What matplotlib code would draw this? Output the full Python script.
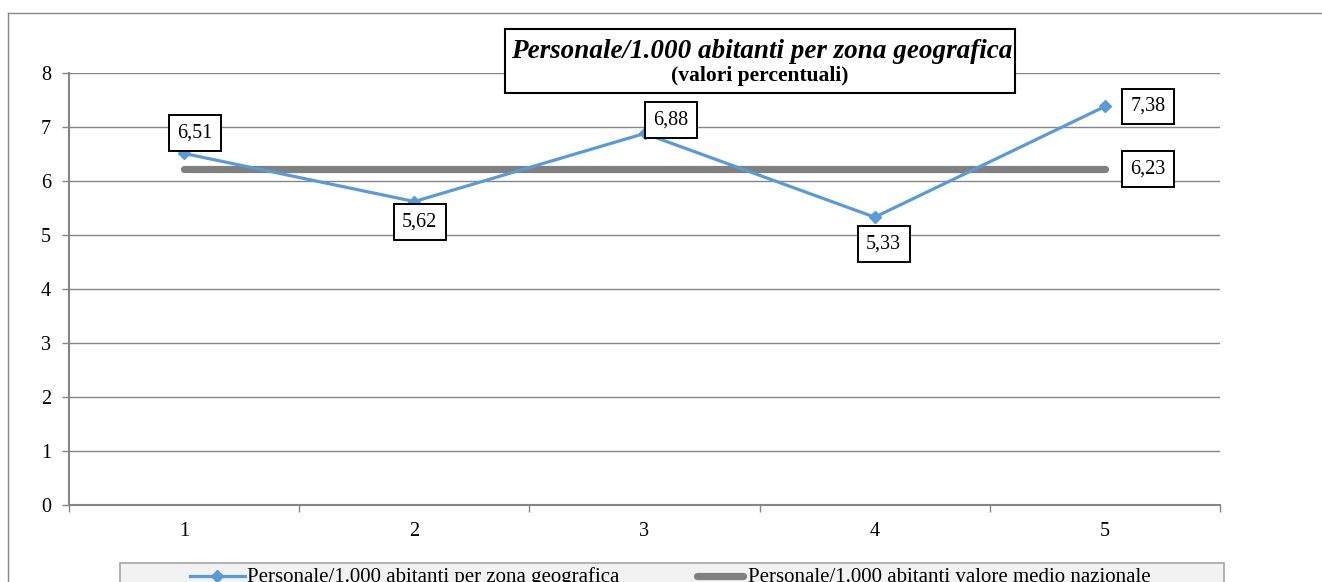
import matplotlib
matplotlib.use("Agg")
import matplotlib.pyplot as plt
from matplotlib.lines import Line2D
from matplotlib.patches import Rectangle

plt.rcParams["font.family"] = ["Liberation Serif", "DejaVu Serif"]

# data
zones = [1, 2, 3, 4, 5]
personale = [6.51, 5.62, 6.88, 5.33, 7.38]
media_nazionale = [6.23, 6.23, 6.23, 6.23, 6.23]
label_zona = "Personale/1.000 abitanti per zona geografica"
label_media = "Personale/1.000 abitanti valore medio nazionale"

W, H = 1322, 582
fig = plt.figure(figsize=(W / 100, H / 100), dpi=100)


def fx(px):
    return px / W


def fy(py):
    return 1 - py / H


GRID = "#868686"
BLUE = "#5B9BD5"
GREY = "#808080"

# outer chart frame (cut by the image edge)
fig.add_artist(Line2D([fx(8), fx(8)], [fy(13), fy(H + 5)], color=GRID, lw=1))
fig.add_artist(Line2D([fx(8), fx(W + 5)], [fy(13), fy(13)], color=GRID, lw=1))

ax = fig.add_axes([fx(69), fy(505), fx(1220) - fx(69), fy(73) - fy(505)])
ax.set_xlim(0.5, 5.5)
ax.set_ylim(0, 8)

ax.plot(zones, media_nazionale, color=GREY, lw=5.2, solid_capstyle="round", zorder=3)
ax.plot(zones, personale, color=BLUE, lw=2.3, marker="D", markersize=6.5,
        markeredgecolor=BLUE, zorder=4)

# data labels
box = dict(boxstyle="square,pad=0.42", fc="white", ec="black", lw=1.4)
offsets = [(8, 14.5), (4, -15), (19, 10), (6.5, -19), (31, 0)]
for x, v, off in zip(zones, personale, offsets):
    ax.annotate(f"{v:.2f}".replace(".", ","), (x, v), xytext=off,
                textcoords="offset points", ha="center", va="center",
                fontsize=14.5, bbox=box, zorder=5)
ax.annotate(f"{media_nazionale[-1]:.2f}".replace(".", ","),
            (zones[-1], media_nazionale[-1]), xytext=(31, 0),
            textcoords="offset points", ha="center", va="center",
            fontsize=14.5, bbox=box, zorder=5)

# axes styling
ax.set_yticks(range(0, 9))
ax.yaxis.grid(True, color=GRID, lw=1)
ax.set_axisbelow(True)
ax.set_xticks([z - 0.5 for z in zones] + [zones[-1] + 0.5])
ax.set_xticklabels([])
ax.set_xticks(zones, minor=True)
ax.set_xticklabels([str(z) for z in zones], minor=True)
ax.tick_params(axis="x", which="major", length=5, color=GRID, width=1, direction="out")
ax.tick_params(axis="x", which="minor", length=0, pad=12, labelsize=14.5)
ax.tick_params(axis="y", length=5, color=GRID, width=1, pad=8, labelsize=14.5)
for s in ["top", "right"]:
    ax.spines[s].set_visible(False)
for s in ["left", "bottom"]:
    ax.spines[s].set_color(GRID)
    ax.spines[s].set_linewidth(1.5)

# title box
fig.add_artist(Rectangle((fx(505), fy(93)), fx(1015) - fx(505), fy(29) - fy(93),
                         fc="white", ec="black", lw=1.5, zorder=6))
fig.text(fx(762), fy(58), "Personale/1.000 abitanti per zona geografica",
         ha="center", va="baseline", fontsize=19.5, fontweight="bold",
         fontstyle="italic", zorder=7)
fig.text(fx(760), fy(81), "(valori percentuali)", ha="center", va="baseline",
         fontsize=15.5, fontweight="bold", zorder=7)

# legend (cut by the image edge)
fig.add_artist(Rectangle((fx(120), fy(H + 20)), fx(1224) - fx(120), fy(563) - fy(H + 20),
                         fc="#F2F2F2", ec="#A6A6A6", lw=1.2))
fig.add_artist(Line2D([fx(190), fx(245)], [fy(576), fy(576)], color=BLUE, lw=2.3))
fig.add_artist(Line2D([fx(217)], [fy(576)], color=BLUE, marker="D", markersize=6.5, lw=0))
fig.text(fx(247), fy(582), label_zona, ha="left", va="baseline", fontsize=15)
fig.add_artist(Line2D([fx(697), fx(743)], [fy(576), fy(576)], color=GREY, lw=5.2,
                      solid_capstyle="round"))
fig.text(fx(748), fy(582), label_media, ha="left", va="baseline", fontsize=15)

fig.savefig("out.png", dpi=100, facecolor="white")
